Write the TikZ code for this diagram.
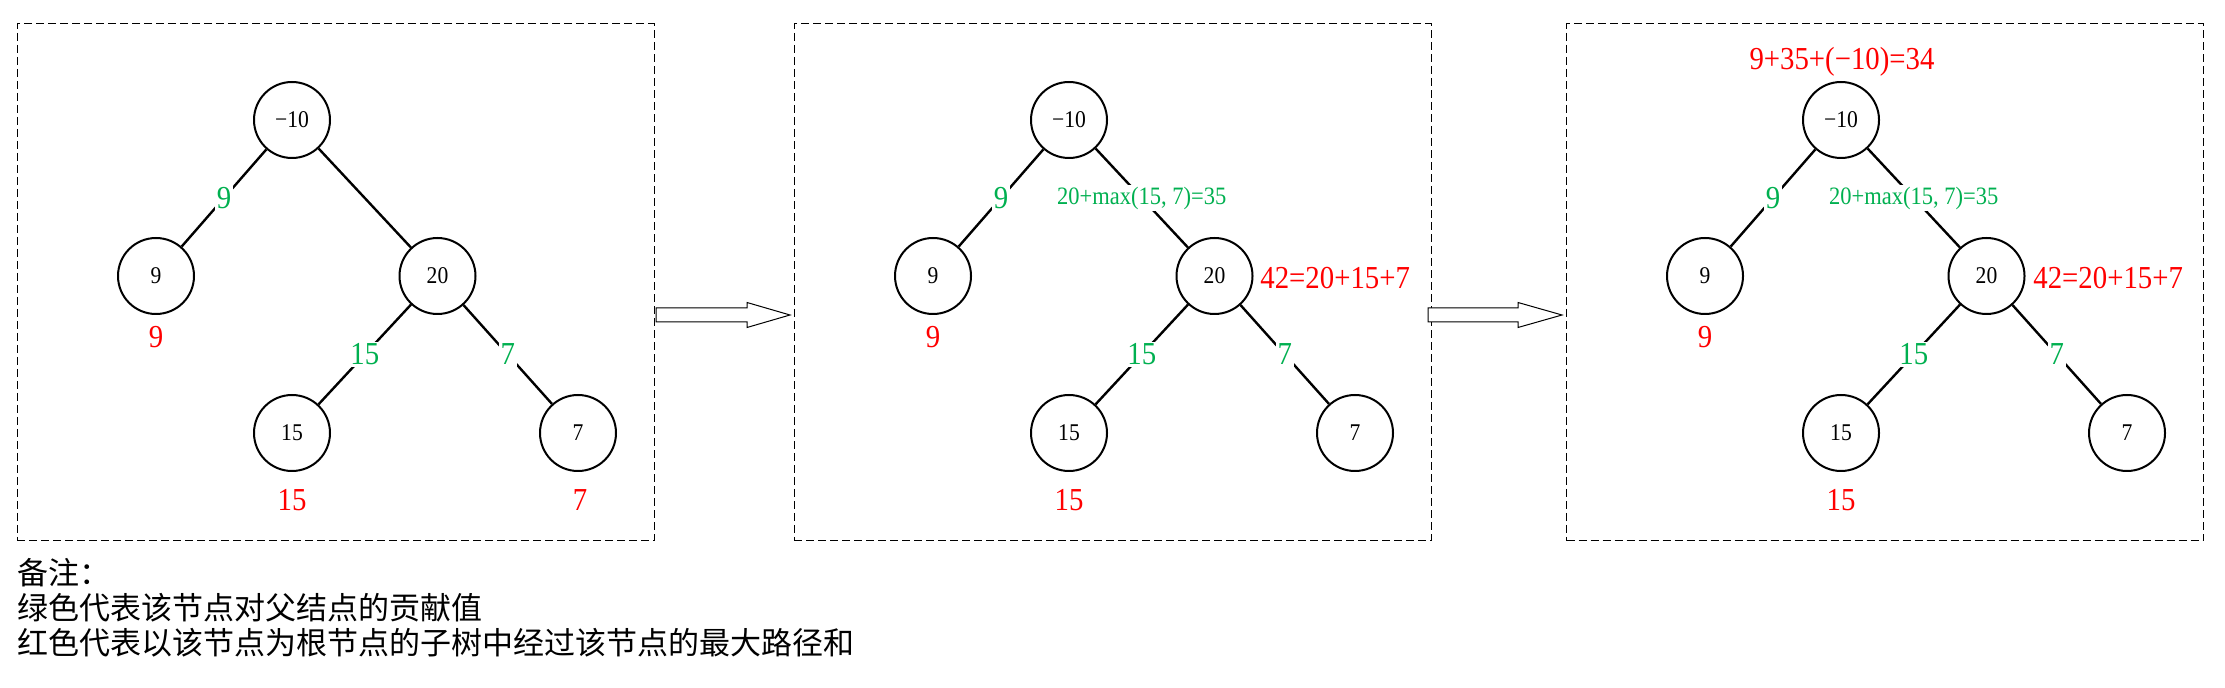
\documentclass[tikz,border=0pt]{standalone}
\usepackage{fontspec}
\setmainfont{Liberation Serif}[FakeStretch=0.9]
\newfontfamily\cjk{Noto Sans CJK SC}
\definecolor{tgreen}{RGB}{0,176,80}
\definecolor{tred}{RGB}{255,0,0}
\begin{document}
\begin{tikzpicture}[x=0.5pt,y=-0.5pt,
  tn/.style={circle,draw,line width=1pt,minimum size=38pt,inner sep=0pt,font=\fontsize{12}{12}\selectfont},
  edge/.style={line width=1.2pt},
  elab/.style={fill=white,text=tgreen,inner sep=1pt,font=\fontsize{16}{16}\selectfont},
  slab/.style={fill=white,text=tgreen,inner sep=1pt,font=\fontsize{12.5}{12.5}\selectfont},
  rlab/.style={text=tred,inner sep=0pt,font=\fontsize{16}{16}\selectfont},
  panel/.style={draw,dash pattern=on 4pt off 2pt,line width=0.5pt,minimum width=318.5pt,minimum height=258.5pt,inner sep=0pt},
  blockarrow/.style={draw,line width=0.5pt,fill=white},
  note/.style={anchor=west,inner sep=0pt,font=\cjk\fontsize{15.5}{17.5}\selectfont}]
\useasboundingbox (0,0) rectangle (2225,688);

% panels
\node[panel] (p1) at (335.5,282.5) {};
\node[panel] (p2) at (1112.5,282.5) {};
\node[panel] (p3) at (1885,282.5) {};

% block arrows
\draw[blockarrow,shift={(656,315)}] (0,-7) -- (91,-7) -- (91,-12.5) -- (134,0) -- (91,12.5) -- (91,7) -- (0,7) -- cycle;
\draw[blockarrow,shift={(1428,315)}] (0,-7) -- (90,-7) -- (90,-12.5) -- (134,0) -- (90,12.5) -- (90,7) -- (0,7) -- cycle;

% ---------- panel 1 ----------
\node[tn] (ar) at (292,120) {−10};
\node[tn] (al) at (156,276) {9};
\node[tn] (am) at (437.5,276) {20};
\node[tn] (aml) at (292,433) {15};
\node[tn] (amr) at (578,433) {7};
\draw[edge] (ar) -- node[elab] (ae1) {9} (al);
\draw[edge] (ar) -- (am);
\draw[edge] (am) -- node[elab] (ae2) {15} (aml);
\draw[edge] (am) -- node[elab] (ae3) {7} (amr);
\node[rlab] (ar1) at (156,337) {9};
\node[rlab] (ar2) at (292,500) {15};
\node[rlab] (ar3) at (580,500) {7};

% ---------- panel 2 ----------
\node[tn] (br) at (1069,120) {−10};
\node[tn] (bl) at (933,276) {9};
\node[tn] (bm) at (1214.5,276) {20};
\node[tn] (bml) at (1069,433) {15};
\node[tn] (bmr) at (1355,433) {7};
\draw[edge] (br) -- node[elab] (be1) {9} (bl);
\draw[edge] (br) -- node[slab] (be4) {20+max(15, 7)=35} (bm);
\draw[edge] (bm) -- node[elab] (be2) {15} (bml);
\draw[edge] (bm) -- node[elab] (be3) {7} (bmr);
\node[rlab] (br1) at (933,337) {9};
\node[rlab] (br2) at (1069,500) {15};
\node[rlab,anchor=west] (br4) at (1260,278) {42=20+15+7};

% ---------- panel 3 ----------
\node[tn] (cr) at (1841,120) {−10};
\node[tn] (cl) at (1705,276) {9};
\node[tn] (cm) at (1986.5,276) {20};
\node[tn] (cml) at (1841,433) {15};
\node[tn] (cmr) at (2127,433) {7};
\draw[edge] (cr) -- node[elab] (ce1) {9} (cl);
\draw[edge] (cr) -- node[slab] (ce4) {20+max(15, 7)=35} (cm);
\draw[edge] (cm) -- node[elab] (ce2) {15} (cml);
\draw[edge] (cm) -- node[elab] (ce3) {7} (cmr);
\node[rlab] (cr1) at (1705,337) {9};
\node[rlab] (cr2) at (1841,500) {15};
\node[rlab,anchor=west] (cr4) at (2033,278) {42=20+15+7};
\node[rlab] (cr5) at (1842,61.5) {9+35+(−10)=34};

% notes
\node[note] (n1) at (17,573) {备注：};
\node[note] (n2) at (17,608) {绿色代表该节点对父结点的贡献值};
\node[note] (n3) at (17,643) {红色代表以该节点为根节点的子树中经过该节点的最大路径和};
\end{tikzpicture}
\end{document}
